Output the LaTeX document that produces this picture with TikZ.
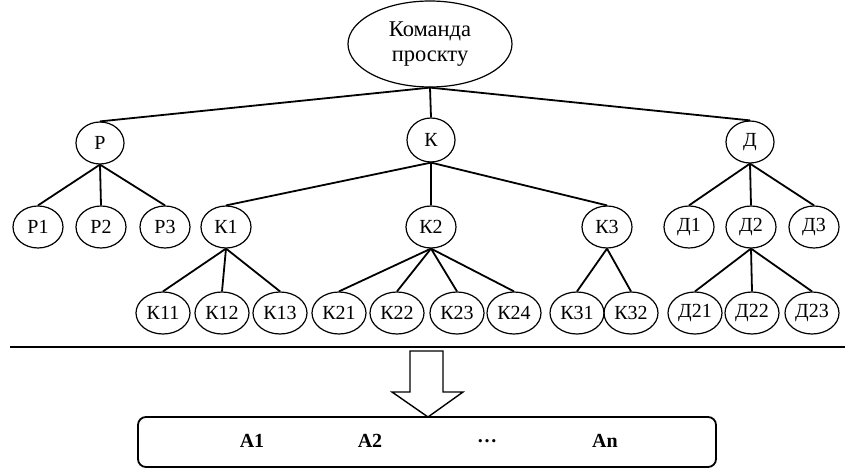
\documentclass[tikz,border=0pt]{standalone}
\usepackage{fontspec}
\setmainfont{Liberation Serif}
\usetikzlibrary{shapes.geometric}
\begin{document}
\begin{tikzpicture}[x=1pt,y=-1pt,
  oval/.style={ellipse,draw,line width=1.2pt,minimum width=50pt,minimum height=42pt,inner sep=0pt,font=\fontsize{20}{20}\selectfont},
  leaf/.style={oval,minimum width=54pt},
  edge/.style={line width=1.8pt},
  lbl/.style={font=\fontsize{20}{20}\selectfont\bfseries}]
\useasboundingbox (0,0) rectangle (845,470);
% root
\node[ellipse,draw,line width=1.2pt,minimum width=164pt,minimum height=86pt,inner sep=0pt,align=center,font=\fontsize{22.5}{25}\selectfont] (root) at (430,44) {Команда\\проскту};
% level 1
\node[oval,minimum width=48pt] (P) at (100,143) {Р};
\node[oval,minimum width=48pt,minimum height=44pt] (K) at (431,140) {К};
\node[oval,minimum width=48pt] (D) at (750,142) {Д};
% level 2
\node[oval] (P1) at (38,227) {Р1};
\node[oval] (P2) at (101,227) {Р2};
\node[oval] (P3) at (165,227) {Р3};
\node[oval] (K1) at (226,227) {К1};
\node[oval] (K2) at (431,227) {К2};
\node[oval] (K3) at (607,227) {К3};
\node[oval] (D1) at (689,227) {Д1};
\node[oval] (D2) at (751,227) {Д2};
\node[oval] (D3) at (814,227) {Д3};
% level 3
\node[leaf] (K11) at (163,313) {К11};
\node[leaf] (K12) at (222,313) {К12};
\node[leaf] (K13) at (280,313) {К13};
\node[leaf] (K21) at (339,313) {К21};
\node[leaf] (K22) at (397,313) {К22};
\node[leaf] (K23) at (457,313) {К23};
\node[leaf] (K24) at (514,313) {К24};
\node[leaf] (K31) at (577,313) {К31};
\node[leaf] (K32) at (631,313) {К32};
\node[leaf] (D21) at (695,313) {Д21};
\node[leaf] (D22) at (752,313) {Д22};
\node[leaf] (D23) at (812,313) {Д23};
% edges
\foreach \c in {P,K,D} \draw[edge] (root.south) -- (\c.north);
\foreach \c in {P1,P2,P3} \draw[edge] (P.south) -- (\c.north);
\foreach \c in {K1,K2,K3} \draw[edge] (K.south) -- (\c.north);
\foreach \c in {D1,D2,D3} \draw[edge] (D.south) -- (\c.north);
\foreach \c in {K11,K12,K13} \draw[edge] (K1.south) -- (\c.north);
\foreach \c in {K21,K22,K23,K24} \draw[edge] (K2.south) -- (\c.north);
\foreach \c in {K31,K32} \draw[edge] (K3.south) -- (\c.north);
\foreach \c in {D21,D22,D23} \draw[edge] (D2.south) -- (\c.north);
% separator
\coordinate (sepL) at (10,347);
\coordinate (sepR) at (845,347);
\draw[line width=2.4pt] (sepL) -- (sepR);
% block arrow
\draw[line width=1.4pt,line join=miter,fill=white] (410,351) -- (443,351) -- (443,392) -- (463,392) -- (428,417) -- (392,392) -- (410,392) -- cycle;
% bottom box
\node[draw,line width=1.8pt,rounded corners=8pt,minimum width=578pt,minimum height=50pt,inner sep=0pt] (box) at (427,442) {};
\node[lbl] (A1) at (252,441) {A1};
\node[lbl] (A2) at (370,441) {A2};
\node[lbl] (Ad) at (487,441) {…};
\node[lbl] (An) at (605,441) {An};
\end{tikzpicture}
\end{document}
